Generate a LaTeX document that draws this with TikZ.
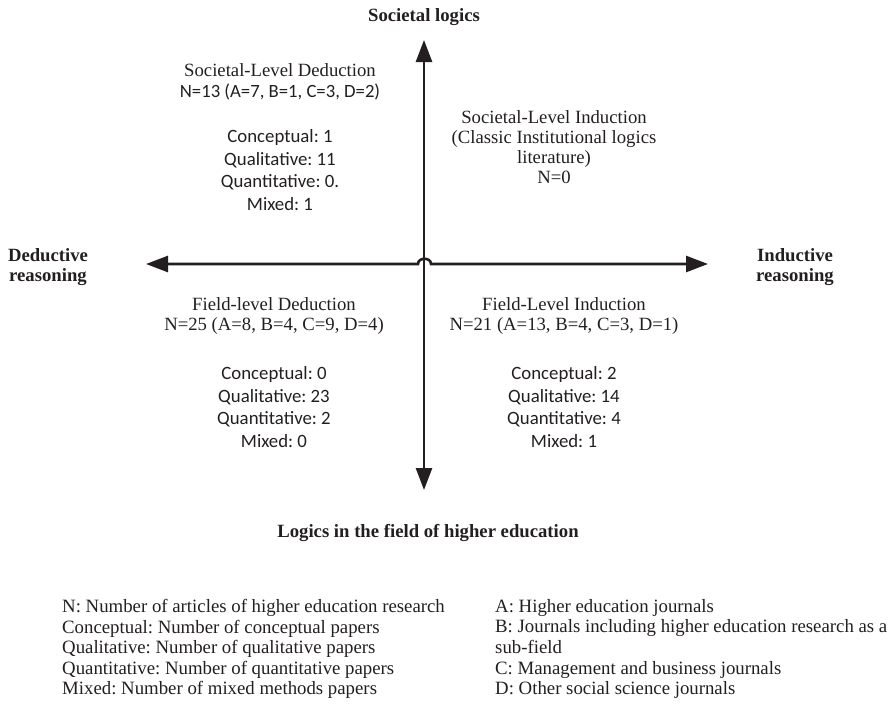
\documentclass[tikz,border=0pt]{standalone}
\usepackage{fontspec}
\setmainfont{Liberation Serif}
\newfontfamily\carl{Carlito}
\usetikzlibrary{arrows.meta}
\definecolor{ink}{HTML}{231F20}
\frenchspacing
\begin{document}
\frenchspacing
\begin{tikzpicture}[x=1pt,y=-1pt,
  ax/.style={line width=2.6pt, draw=ink, {Triangle[length=22pt,width=16pt]}-{Triangle[length=22pt,width=16pt]}},
  tt/.style={font=\fontsize{18.7}{20.5}\selectfont, align=center, inner sep=0pt, text=ink},
  cc/.style={font=\carl\fontsize{18.8}{22.5}\selectfont, align=center, inner sep=0pt, text=ink},
  bb/.style={font=\bfseries\fontsize{18.7}{20.5}\selectfont, align=center, inner sep=0pt, text=ink},
  lg/.style={font=\fontsize{18.8}{20.6}\selectfont, align=left, anchor=west, inner sep=0pt, text=ink}]
\path[use as bounding box] (0,0) rectangle (891,710);

% axes
\coordinate (W) at (146,264);
\coordinate (E) at (708,264);
\coordinate (N) at (424,40);
\coordinate (S) at (424,490);
\coordinate (J1) at (418,264);
\coordinate (J2) at (431,264);
\draw[ax] (S) -- (N);
\draw[ax] (W) -- (J1) .. controls (418,257) and (431,257) .. (J2) -- (E);

% axis labels
\node[bb] (top) at (424,17) {Societal logics};
\node[bb] (left) at (48,267) {Deductive\\reasoning};
\node[bb] (right) at (795,267) {Inductive\\reasoning};
\node[bb] (bottom) at (428,533) {Logics in the field of higher education};

% quadrants
\node[tt] (sd) at (280,82) {Societal-Level Deduction\\{\carl N=13 (A=7, B=1, C=3, D=2)}};
\node[cc] (sdc) at (280,170) {Conceptual: 1\\Qualitative: 11\\Quantitative: 0.\\Mixed: 1};

\node[tt, font=\fontsize{18.7}{19.8}\selectfont] (si) at (554,147) {Societal-Level Induction\\(Classic Institutional logics\\literature)\\N=0};

\node[tt] (fd) at (274,316) {Field-level Deduction\\N=25 (A=8, B=4, C=9, D=4)};
\node[cc] (fdc) at (274,407) {Conceptual: 0\\Qualitative: 23\\Quantitative: 2\\Mixed: 0};

\node[tt] (fi) at (564,316) {Field-Level Induction\\N=21 (A=13, B=4, C=3, D=1)};
\node[cc] (fic) at (564,407) {Conceptual: 2\\Qualitative: 14\\Quantitative: 4\\Mixed: 1};

% legend
\node[lg] (lgl) at (62,649) {N: Number of articles of higher education research\\Conceptual: Number of conceptual papers\\Qualitative: Number of qualitative papers\\Quantitative: Number of quantitative papers\\Mixed: Number of mixed methods papers};
\node[lg] (lgr) at (495,649) {A: Higher education journals\\B: Journals including higher education research as a\\sub-field\\C: Management and business journals\\D: Other social science journals};
\end{tikzpicture}
\end{document}
